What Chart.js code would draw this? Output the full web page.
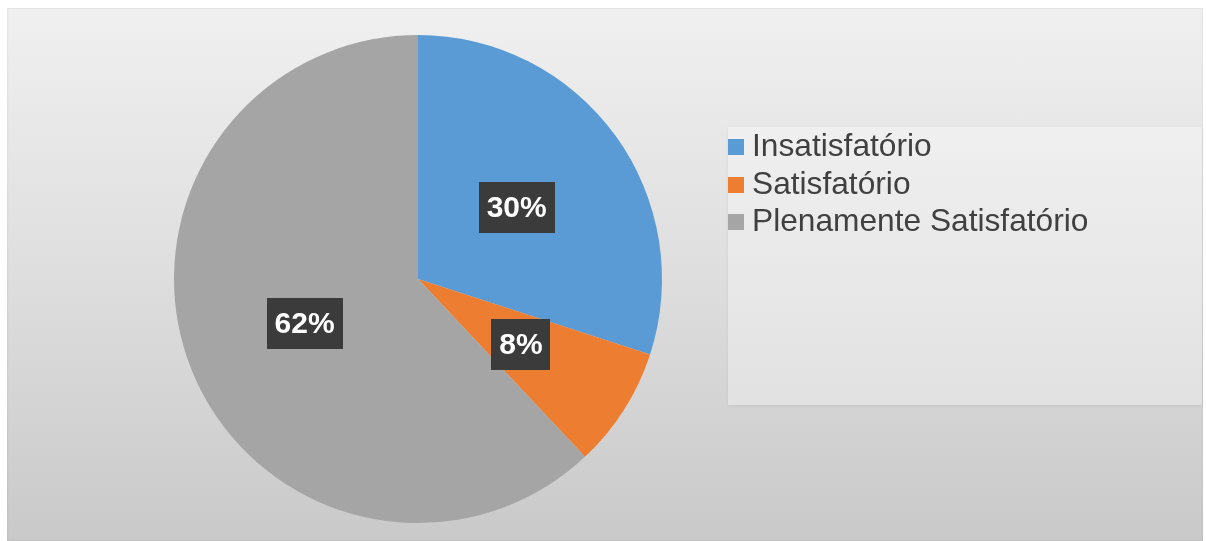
<!DOCTYPE html>
<html>
<head>
<meta charset="utf-8">
<script src="https://cdn.jsdelivr.net/npm/chart.js@4/dist/chart.umd.min.js"></script>
<style>
  html, body { margin: 0; padding: 0; background: #ffffff; }
  body { width: 1206px; height: 541px; position: relative; overflow: hidden; font-family: "Liberation Sans", Arial, sans-serif; }
  #bg { position: absolute; left: 7px; top: 8px; width: 1196px; height: 533px;
        background: linear-gradient(to bottom, #f0f0f0 0%, #dedede 50%, #c9c9c9 100%);
        box-shadow: inset 0 0 2px rgba(0,0,0,0.15); }
  #legendBox { position: absolute; left: 728px; top: 127px; width: 474px; height: 278px;
        background: rgba(255,255,255,0.32); box-shadow: 0 1px 3px rgba(0,0,0,0.08); }
  #legend { position: absolute; left: 728px; top: 127px; }
  .item { position: absolute; left: 0; height: 37px; white-space: nowrap; color: #404040; font-size: 31.7px; line-height: 37px; }
  .sw { display: inline-block; width: 16px; height: 16px; margin-right: 8px; vertical-align: 1px; }
  #wrap { position: absolute; left: 0; top: 0; width: 1206px; height: 541px; }
</style>
</head>
<body>
<div id="bg"></div>
<div id="legendBox"></div>
<div id="wrap"><canvas id="c" width="1206" height="541"></canvas></div>
<div id="legend"></div>
<script>
const categories = ["Insatisfatório", "Satisfatório", "Plenamente Satisfatório"];
const values = [30, 8, 62];
const valueLabels = ["30%", "8%", "62%"];
const colors = ["#5B9BD5", "#ED7D31", "#A5A5A5"];

// HTML legend built from the data arrays
const legend = document.getElementById("legend");
categories.forEach((name, i) => {
  const d = document.createElement("div");
  d.className = "item";
  d.style.top = (i * 37.5) + "px";
  const sw = document.createElement("span");
  sw.className = "sw";
  sw.style.background = colors[i];
  d.appendChild(sw);
  d.appendChild(document.createTextNode(name));
  legend.appendChild(d);
});

const labelPlugin = {
  id: "boxLabels",
  afterDatasetsDraw(chart) {
    const ctx = chart.ctx;
    const meta = chart.getDatasetMeta(0);
    ctx.save();
    ctx.font = "bold 30px 'Liberation Sans', Arial, sans-serif";
    ctx.textAlign = "center";
    ctx.textBaseline = "middle";
    meta.data.forEach((arc, i) => {
      const p = arc.tooltipPosition();
      const txt = valueLabels[i];
      const w = ctx.measureText(txt).width + 16;
      const h = 51;
      ctx.fillStyle = "#3b3b3b";
      ctx.fillRect(Math.round(p.x - w / 2), Math.round(p.y - h / 2), Math.round(w), h);
      ctx.fillStyle = "#ffffff";
      ctx.fillText(txt, p.x, p.y + 1);
    });
    ctx.restore();
  }
};

new Chart(document.getElementById("c"), {
  type: "pie",
  data: {
    labels: categories,
    datasets: [{
      data: values,
      backgroundColor: colors,
      borderWidth: 0
    }]
  },
  options: {
    responsive: false,
    animation: false,
    rotation: 0,
    layout: { padding: { top: 35, bottom: 18, left: 174, right: 544 } },
    plugins: { legend: { display: false }, tooltip: { enabled: false } }
  },
  plugins: [labelPlugin]
});
</script>
</body>
</html>
